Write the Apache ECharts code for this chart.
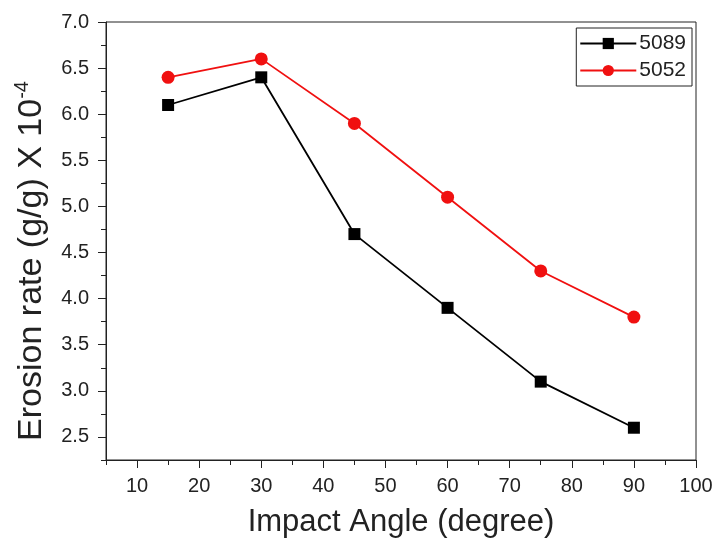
<!DOCTYPE html>
<html><head><meta charset="utf-8">
<script src="https://cdn.jsdelivr.net/npm/echarts@6/dist/echarts.min.js"></script>
<style>html,body{margin:0;padding:0;background:#fff}#c{width:717px;height:538px}</style>
</head><body><div id="c"></div>
<script>
const angles = [15, 30, 45, 60, 75, 90];
const s5089 = [6.1, 6.4, 4.7, 3.9, 3.1, 2.6];
const s5052 = [6.4, 6.6, 5.9, 5.1, 4.3, 3.8];
const xMajor = [10, 20, 30, 40, 50, 60, 70, 80, 90, 100];
const xMinor = [5, 15, 25, 35, 45, 55, 65, 75, 85, 95];
const yMajor = [2.5, 3.0, 3.5, 4.0, 4.5, 5.0, 5.5, 6.0, 6.5, 7.0];
const yMinor = [2.25, 2.75, 3.25, 3.75, 4.25, 4.75, 5.25, 5.75, 6.25, 6.75];

const font = 'Liberation Sans, Arial, sans-serif';
const chart = echarts.init(document.getElementById('c'));
const ax = '#222';
chart.setOption({
  animation: false,
  grid: { left: 106, right: 21, top: 22, bottom: 78, outerBoundsMode: 'none', containLabel: false,
    show: true, borderColor: ax, borderWidth: 1, backgroundColor: 'transparent' },
  legend: {
    orient: 'vertical', right: 25, top: 28,
    borderColor: ax, borderWidth: 1, padding: [5, 6, 5, 3], itemGap: 6,
    itemWidth: 56, itemHeight: 14,
    textStyle: { fontSize: 21, fontFamily: font, color: ax, padding: [0, 0, 0, -2] },
    data: ['5089', '5052']
  },
  xAxis: [{
    type: 'value', min: 5, max: 100,
    name: 'Impact Angle (degree)', nameLocation: 'middle', nameGap: 47,
    nameTextStyle: { fontSize: 31, fontFamily: font, color: ax },
    axisLine: { show: true, lineStyle: { color: ax } },
    axisTick: { show: true, length: 8, customValues: xMajor, lineStyle: { color: ax } },
    axisLabel: { customValues: xMajor, fontSize: 20, fontFamily: font, color: ax, margin: 16 },
    splitLine: { show: false }
  }, {
    type: 'value', min: 5, max: 100, position: 'bottom',
    axisLine: { show: false },
    axisTick: { show: true, length: 5, customValues: xMinor, lineStyle: { color: ax } },
    axisLabel: { show: false }, splitLine: { show: false }
  }],
  yAxis: [{
    type: 'value', min: 2.25, max: 7.0,
    name: 'Erosion rate (g/g) X 10{sup|-4}', nameLocation: 'middle', nameGap: 54, nameRotate: 90,
    nameTextStyle: { fontSize: 34, fontFamily: font, color: ax, padding: [0, 40, 0, 0],
      rich: { sup: { fontSize: 20, fontFamily: font, color: ax, padding: [0, 0, 20, 0] } } },
    axisLine: { show: true, lineStyle: { color: ax } },
    axisTick: { show: true, length: 8, customValues: yMajor, lineStyle: { color: ax } },
    axisLabel: { customValues: yMajor, fontSize: 20, fontFamily: font, color: ax, margin: 17,
      formatter: v => v.toFixed(1) },
    splitLine: { show: false }
  }, {
    type: 'value', min: 2.25, max: 7.0, position: 'left',
    axisLine: { show: false },
    axisTick: { show: true, length: 5, customValues: yMinor, lineStyle: { color: ax } },
    axisLabel: { show: false }, splitLine: { show: false }
  }],
  series: [{
    name: '5089', type: 'line', data: angles.map((a, i) => [a, s5089[i]]),
    symbol: 'rect', symbolSize: 12, itemStyle: { color: '#000' },
    lineStyle: { color: '#000', width: 1.8 }
  }, {
    name: '5052', type: 'line', data: angles.map((a, i) => [a, s5052[i]]),
    symbol: 'circle', symbolSize: 13, itemStyle: { color: '#f01010' },
    lineStyle: { color: '#f01010', width: 1.8 }
  }]
});
</script></body></html>
